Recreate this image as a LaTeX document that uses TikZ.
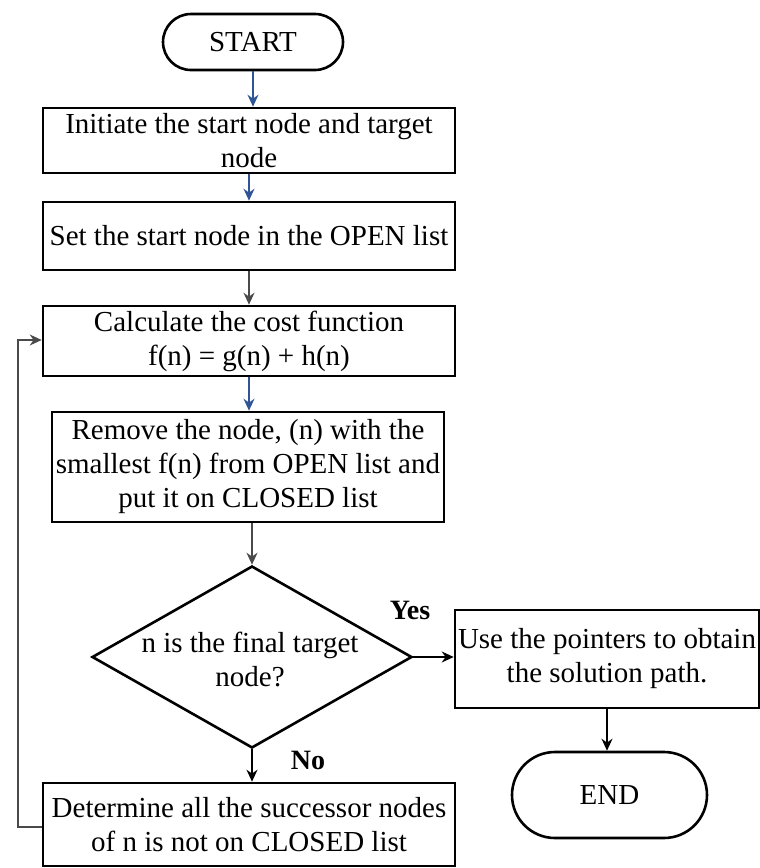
\documentclass[tikz,border=0pt]{standalone}
\usepackage{fontspec}
\setmainfont{Liberation Serif}
\usetikzlibrary{shapes.misc,shapes.geometric,arrows.meta}
\definecolor{linkblue}{HTML}{2F5597}
\definecolor{linkgrey}{HTML}{4A4A4A}
\tikzset{
  txt/.style={font=\fontsize{29}{34}\selectfont, align=center},
  procbox/.style={txt, draw=black, line width=2.6pt, rectangle, inner sep=0pt},
  terminal/.style={txt, draw=black, line width=2.6pt, rounded rectangle, inner sep=0pt},
  decision/.style={draw=black, line width=2.6pt, diamond, inner sep=0pt},
  flow/.style={line width=1.7pt, -{Stealth[length=12pt,width=11pt]}},
  blueflow/.style={flow, draw=linkblue, -{Stealth[length=12pt,width=11pt,fill=linkblue]}},
  greyflow/.style={flow, draw=linkgrey},
  branch/.style={font=\fontsize{28}{32}\selectfont\bfseries}
}
\begin{document}
\begin{tikzpicture}[x=1pt,y=-1pt]
\useasboundingbox (0,0) rectangle (760,868);

\node[terminal, minimum width=180pt, minimum height=56pt] (start) at (253,42) {START};
\node[procbox, minimum width=412pt, minimum height=65pt] (init) at (249,140.5) {Initiate the start node and target\\node};
\node[procbox, minimum width=412pt, minimum height=68pt] (open) at (249,236) {Set the start node in the OPEN list};
\node[procbox, minimum width=412pt, minimum height=70pt] (cost) at (249,341) {Calculate the cost function\\f(n) = g(n) + h(n)};
\node[procbox, minimum width=392pt, minimum height=110pt] (remove) at (248,467) {Remove the node, (n) with the\\smallest f(n) from OPEN list and\\put it on CLOSED list};
\node[decision, minimum width=320pt, minimum height=182pt] (goal) at (252,657) {};
\node[txt] (goaltext) at (250,659) {n is the final target\\node?};
\node[procbox, minimum width=304pt, minimum height=98pt] (path) at (607,659) {Use the pointers to obtain\\the solution path.};
\node[terminal, minimum width=195pt, minimum height=86pt] (end) at (609.5,795) {END};
\node[procbox, minimum width=412pt, minimum height=83pt] (succ) at (249,824.5) {Determine all the successor nodes\\of n is not on CLOSED list};

\node[branch] (yes) at (410,610) {Yes};
\node[branch] (no) at (308,760) {No};

\draw[blueflow] (start.south) -- (start.south |- init.north);
\draw[blueflow] (init.south) -- (init.south |- open.north);
\draw[greyflow] (open.south) -- (open.south |- cost.north);
\draw[blueflow] (cost.south) -- (cost.south |- remove.north);
\draw[greyflow] (goal.north |- remove.south) -- (goal.north);
\draw[flow] (goal.east) -- (goal.east -| path.west);
\draw[flow] (path.south) -- (path.south |- end.north);
\draw[flow] (goal.south) -- (goal.south |- succ.north);

\coordinate (loopbot) at (18,827);
\coordinate (looptop) at (18,340);
\draw[flow, draw=linkgrey, line width=1.3pt] (succ.west |- loopbot) -- (loopbot) -- (looptop) -- (cost.west |- looptop);
\end{tikzpicture}
\end{document}
